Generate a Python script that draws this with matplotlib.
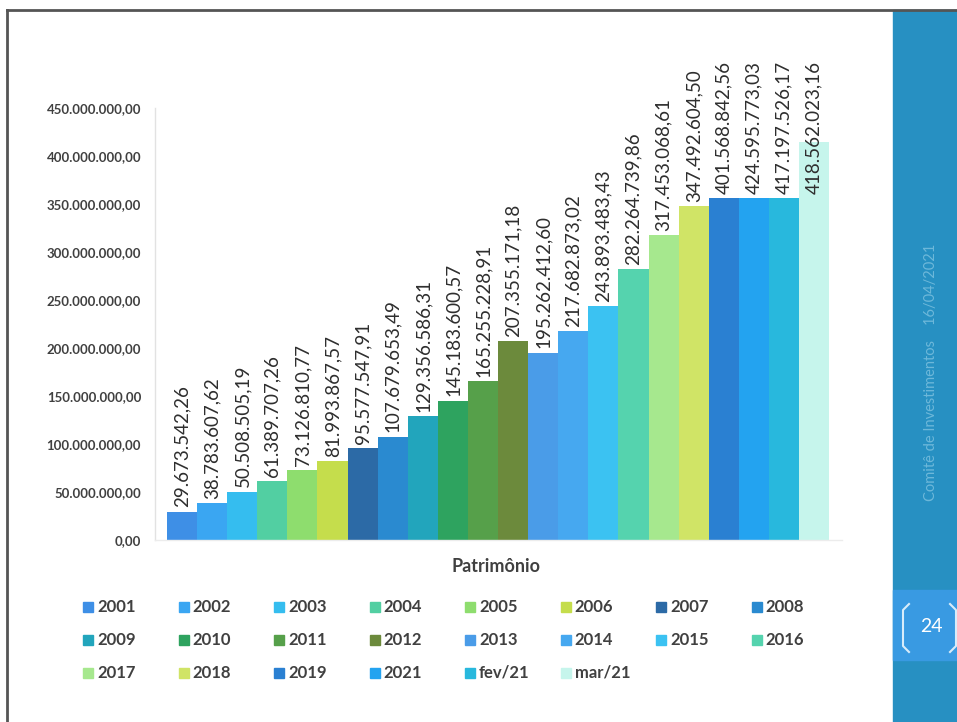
import numpy as np
import matplotlib
matplotlib.use("Agg")
import matplotlib.pyplot as plt
from matplotlib.patches import Rectangle
from matplotlib.lines import Line2D

# data
categories = ['2001', '2002', '2003', '2004', '2005', '2006', '2007', '2008',
              '2009', '2010', '2011', '2012', '2013', '2014', '2015', '2016',
              '2017', '2018', '2019', '2021', 'fev/21', 'mar/21']
# bar heights as drawn on the slide (the last four bars are drawn lower than their labels)
heights = [29.67e6, 38.78e6, 50.51e6, 61.39e6, 73.13e6, 81.99e6, 95.58e6, 107.68e6,
           129.36e6, 145.18e6, 165.26e6, 207.36e6, 195.26e6, 217.68e6, 243.89e6, 282.26e6,
           317.45e6, 347.49e6, 356e6, 356e6, 356e6, 415e6]
value_labels = ['29.673.542,26', '38.783.607,62', '50.508.505,19', '61.389.707,26',
                '73.126.810,77', '81.993.867,57', '95.577.547,91', '107.679.653,49',
                '129.356.586,31', '145.183.600,57', '165.255.228,91', '207.355.171,18',
                '195.262.412,60', '217.682.873,02', '243.893.483,43', '282.264.739,86',
                '317.453.068,61', '347.492.604,50', '401.568.842,56', '424.595.773,03',
                '417.197.526,17', '418.562.023,16']
colors = ['#3E8FE6', '#3AA6F2', '#35BDEF', '#52CFA2', '#8EDD6E', '#C5DD4C', '#2C6AA6', '#2A8AD0',
          '#22A5BC', '#2EA35F', '#56A04A', '#6C8A3C', '#4A9CE8', '#46A8F0', '#3BC2F2', '#55D3AE',
          '#A6E88E', '#D0E466', '#2A80D2', '#23A3F0', '#28B8DD', '#C6F5EC']
yticks = np.arange(0, 450e6 + 1, 50e6)

W, H = 957, 722
fig = plt.figure(figsize=(W / 100, H / 100), dpi=100)
plt.rcParams['font.family'] = ['Lato', 'DejaVu Sans']
txt = '#404040'

def fx(px):
    return px / W

def fy(py):
    return 1 - py / H

ax = fig.add_axes([fx(155), fy(540), fx(842) - fx(155), fy(108) - fy(540)])
x = np.arange(len(categories))
ax.bar(x, heights, width=1.0, color=colors, linewidth=0)
ax.set_xlim(-0.9, 21.93)
ax.set_ylim(0, 450e6)
ax.set_xticks([])
ax.set_yticks(yticks)

def fmt(v):
    s = f"{v:,.2f}"
    return s.replace(',', 'X').replace('.', ',').replace('X', '.')

ax.set_yticklabels([fmt(v) for v in yticks], fontsize=9.5, fontweight='bold', color=txt)
ax.tick_params(axis='y', length=0, pad=10)
for side in ['top', 'right']:
    ax.spines[side].set_visible(False)
ax.spines['left'].set_color('#e2e2e2')
ax.spines['bottom'].set_color('#ececec')
ax.spines['left'].set_linewidth(1)
ax.spines['bottom'].set_linewidth(1)

cap = max(heights[:-1])
for i, (h, lab) in enumerate(zip(heights, value_labels)):
    ax.annotate(lab, (i, min(h, cap)), xytext=(0, 3), textcoords='offset points',
                rotation=90, ha='center', va='bottom', fontsize=13.5, color='#2e2e2e')

fig.text(fx(496), fy(567), 'Patrimônio', ha='center', va='center',
         fontsize=13, fontweight='bold', color=txt)

# legend, 8 columns
for i, (c, col) in enumerate(zip(categories, colors)):
    r, k = divmod(i, 8)
    lx = 83 + k * 95.5
    ly = 607 + r * 33
    fig.patches.append(Rectangle((fx(lx), fy(ly + 5)), fx(10), 10 / H, color=col,
                                 transform=fig.transFigure, figure=fig))
    fig.text(fx(lx + 14), fy(ly), c, ha='left', va='center', fontsize=12,
             fontweight='bold', color=txt)

# slide frame and sidebar
fig.patches.append(Rectangle((fx(893), 0), fx(W - 893), fy(10), color='#2790C2',
                             transform=fig.transFigure, figure=fig))
fig.patches.append(Rectangle((fx(893), fy(660)), fx(W - 893), 70 / H, color='#399AE2',
                             transform=fig.transFigure, figure=fig))
fig.lines.append(Line2D([fx(7), fx(7)], [0, fy(10)], color='#555555', lw=2,
                        transform=fig.transFigure))
fig.lines.append(Line2D([fx(7), 1], [fy(10), fy(10)], color='#555555', lw=2,
                        transform=fig.transFigure))
fig.text(fx(931), fy(372), 'Comitê de Investimentos    16/04/2021', rotation=90,
         ha='center', va='center', fontsize=10.5, color='#6DB8DA')
fig.text(fx(931), fy(627), '24', ha='center', va='center', fontsize=14, color='white')
fig.lines.append(Line2D([fx(909), fx(903), fx(903), fx(909)],
                        [fy(604), fy(610), fy(646), fy(652)], color='#d8ecfa', lw=1.5,
                        transform=fig.transFigure))
fig.lines.append(Line2D([fx(950), fx(956), fx(956), fx(950)],
                        [fy(604), fy(610), fy(646), fy(652)], color='#d8ecfa', lw=1.5,
                        transform=fig.transFigure))

fig.savefig('out.png', dpi=100, facecolor='white')
